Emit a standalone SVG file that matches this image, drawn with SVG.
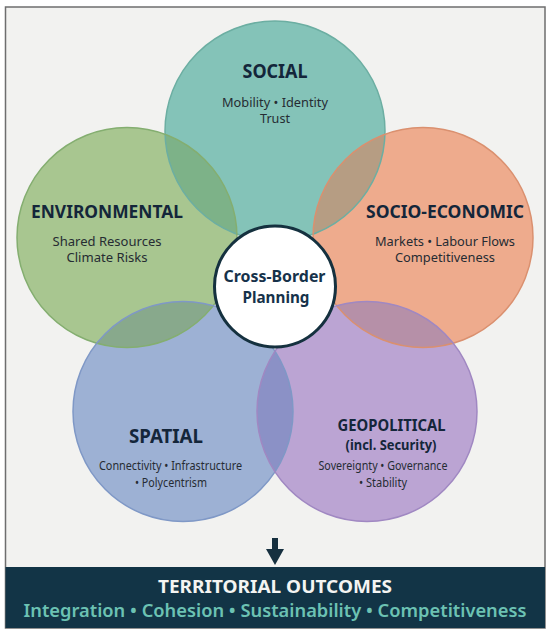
<svg xmlns="http://www.w3.org/2000/svg" width="550" height="635" viewBox="0 0 550 635">
<style>
.t{font-family:"Noto Sans","Open Sans","DejaVu Sans",sans-serif;text-anchor:middle}
.h{font-weight:700;fill:#14263a}
.b{font-weight:400;fill:#262c33;font-size:12px}
.ring{fill:none;stroke-width:1.5}
</style>
<defs>
<clipPath id="cS"><circle cx="275" cy="131" r="110"/></clipPath>
<clipPath id="cE"><circle cx="127" cy="237.5" r="110"/></clipPath>
<clipPath id="cSE"><circle cx="423" cy="237.5" r="110"/></clipPath>
<clipPath id="cSP"><circle cx="183" cy="411.5" r="110"/></clipPath>
</defs>
<rect x="0" y="0" width="550" height="635" fill="#ffffff"/>
<rect x="5.5" y="7" width="539.5" height="621" fill="#f2f2f0" stroke="#6e6e6e" stroke-width="1.5"/>

<g id="social">
<circle cx="275" cy="131" r="110" fill="#84c3b8"/>
</g>
<g id="environmental">
<circle cx="127" cy="237.5" r="110" fill="#a8c690"/>
</g>
<g id="socio-economic">
<circle cx="423" cy="237.5" r="110" fill="#eeab8d"/>
</g>
<g id="spatial">
<circle cx="183" cy="411.5" r="110" fill="#9db1d4"/>
</g>
<g id="geopolitical">
<circle cx="367" cy="411.5" r="110" fill="#bba4d3"/>
</g>

<g id="overlaps">
<circle cx="127" cy="237.5" r="110" fill="#7db288" clip-path="url(#cS)"/>
<circle cx="423" cy="237.5" r="110" fill="#b69d83" clip-path="url(#cS)"/>
<circle cx="183" cy="411.5" r="110" fill="#88a98c" clip-path="url(#cE)"/>
<circle cx="367" cy="411.5" r="110" fill="#b690a8" clip-path="url(#cSE)"/>
<circle cx="367" cy="411.5" r="110" fill="#8b91c6" clip-path="url(#cSP)"/>
</g>

<g id="outlines">
<circle class="ring" cx="275" cy="131" r="110" stroke="#6caea2"/>
<circle class="ring" cx="127" cy="237.5" r="110" stroke="#84ae70"/>
<circle class="ring" cx="423" cy="237.5" r="110" stroke="#da906f"/>
<circle class="ring" cx="183" cy="411.5" r="110" stroke="#7f98c6"/>
<circle class="ring" cx="367" cy="411.5" r="110" stroke="#a088c2"/>
</g>

<g id="social-text">
<text class="t h" x="275" y="78" font-size="19" textLength="65" lengthAdjust="spacingAndGlyphs">SOCIAL</text>
<text class="t b" x="275" y="107" textLength="106" lengthAdjust="spacingAndGlyphs">Mobility • Identity</text>
<text class="t b" x="275" y="123" textLength="30" lengthAdjust="spacingAndGlyphs">Trust</text>
</g>
<g id="environmental-text">
<text class="t h" x="107" y="218" font-size="18.5" textLength="152" lengthAdjust="spacingAndGlyphs">ENVIRONMENTAL</text>
<text class="t b" x="107" y="246" textLength="109" lengthAdjust="spacingAndGlyphs">Shared Resources</text>
<text class="t b" x="107" y="262" textLength="81" lengthAdjust="spacingAndGlyphs">Climate Risks</text>
</g>
<g id="socio-economic-text">
<text class="t h" x="445" y="218" font-size="18.5" textLength="158" lengthAdjust="spacingAndGlyphs">SOCIO-ECONOMIC</text>
<text class="t b" x="445" y="246" textLength="140" lengthAdjust="spacingAndGlyphs">Markets • Labour Flows</text>
<text class="t b" x="445" y="262" textLength="100" lengthAdjust="spacingAndGlyphs">Competitiveness</text>
</g>
<g id="spatial-text">
<text class="t h" x="166" y="443" font-size="20" textLength="74" lengthAdjust="spacingAndGlyphs">SPATIAL</text>
<text class="t b" x="170.5" y="470" font-size="10.5" textLength="143" lengthAdjust="spacingAndGlyphs">Connectivity • Infrastructure</text>
<text class="t b" x="171" y="486.5" font-size="10.5" textLength="72" lengthAdjust="spacingAndGlyphs">• Polycentrism</text>
</g>
<g id="geopolitical-text">
<text class="t h" x="391.5" y="431" font-size="15.5" textLength="108" lengthAdjust="spacingAndGlyphs">GEOPOLITICAL</text>
<text class="t h" x="391" y="450" font-size="13.5" textLength="91" lengthAdjust="spacingAndGlyphs">(incl. Security)</text>
<text class="t b" x="383" y="470" font-size="10.5" textLength="129" lengthAdjust="spacingAndGlyphs">Sovereignty • Governance</text>
<text class="t b" x="383" y="486.5" font-size="10.5" textLength="48" lengthAdjust="spacingAndGlyphs">• Stability</text>
</g>

<g id="cross-border-planning">
<circle cx="275" cy="286.5" r="60.5" fill="#ffffff" stroke="#15313f" stroke-width="3"/>
<text class="t" x="274.5" y="282" font-size="16.5" font-weight="700" fill="#16324a" textLength="102" lengthAdjust="spacingAndGlyphs">Cross-Border</text>
<text class="t" x="276" y="303" font-size="16.5" font-weight="700" fill="#16324a" textLength="67" lengthAdjust="spacingAndGlyphs">Planning</text>
</g>

<g id="connectors">
<rect x="272" y="538" width="6" height="12" fill="#16303f"/>
<polygon points="266,549 284,549 275,565" fill="#16303f"/>
</g>

<g id="territorial-outcomes">
<rect x="5.5" y="567" width="539.5" height="61" fill="#123446"/>
<text class="t" x="275" y="593" font-size="18.5" font-weight="700" fill="#f4f4f2" textLength="234" lengthAdjust="spacingAndGlyphs">TERRITORIAL OUTCOMES</text>
<text class="t" x="275" y="617" font-size="18" font-weight="600" fill="#6cc2b3" textLength="503" lengthAdjust="spacingAndGlyphs">Integration • Cohesion • Sustainability • Competitiveness</text>
</g>
</svg>
